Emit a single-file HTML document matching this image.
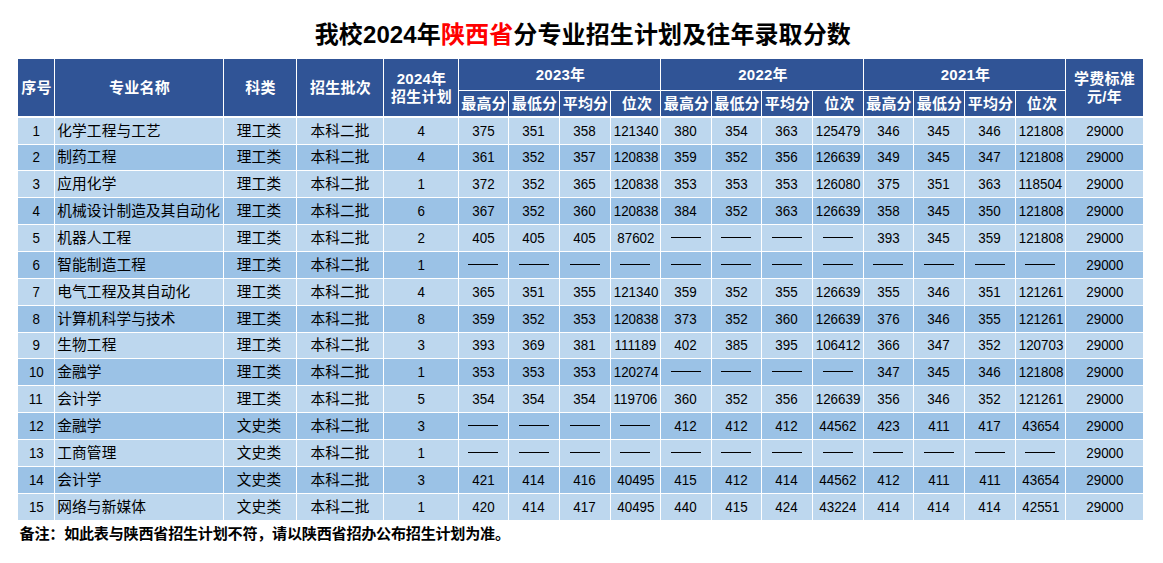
<!DOCTYPE html>
<html lang="zh-CN"><head><meta charset="utf-8"><title>我校2024年陕西省分专业招生计划及往年录取分数</title>
<style>
html,body{margin:0;padding:0;background:#fff}
body{width:1163px;height:563px;position:relative;overflow:hidden;font-family:"Liberation Sans","Noto Sans CJK SC",sans-serif;color:#000}
.hb{display:block;height:15px;line-height:15px;font-size:15px;font-weight:bold;letter-spacing:.2px;color:#fff;white-space:nowrap}
.c{display:block;height:14.67px;line-height:14.67px;font-size:14.67px;letter-spacing:.13px;color:#000;white-space:nowrap}
h1{position:absolute;left:314.7px;top:23.3px;margin:0;height:24px;line-height:24px;font-size:24px;font-weight:bold;white-space:nowrap;letter-spacing:.12px}
h1 .r{color:#f00}
table{position:absolute;left:18px;top:59px;width:1125px;border-collapse:separate;border-spacing:0;table-layout:fixed}
th,td{box-sizing:border-box;padding:0;margin:0;border-right:1px solid #fff;border-bottom:1px solid #fff;text-align:center;vertical-align:middle;white-space:nowrap;overflow:hidden;line-height:1;font-weight:normal}
th{background:#305496;color:#fff;padding-left:1px}
th.y{padding-left:2px}
th.w{padding-left:3px}
th.last,td.last{border-right:0}
th.last{padding-left:0}
tr.h2 th{border-bottom:2px solid #fff}
th[rowspan="2"]{border-bottom:2px solid #fff}
.l2{height:18px;padding-top:1.5px;box-sizing:border-box;position:relative;top:0px}
tr.a td{background:#bdd7ee}
tr.b td{background:#9bc2e6}
tbody tr:last-child td{border-bottom:0}
td.m{text-align:left;padding-left:2.3px}
td.k{padding-right:2px}
td.i{font-size:14.5px}
td.n{font-size:15px}
td.n span{display:inline-block;transform:scaleX(.893);position:relative;top:-0.85px}
td.d{font-size:0;line-height:0}
td.d span{display:block;width:30px;height:1px;margin:0 auto;background:#000;color:transparent;overflow:hidden;position:relative;top:-0.5px;left:-0.5px}
p.note{position:absolute;left:19.6px;top:525.8px;margin:0;height:15px;line-height:15px;white-space:nowrap;font-weight:bold;font-size:15.1px;letter-spacing:-.24px}
</style></head>
<body>
<h1>我校2024年<span class="r">陕西省</span>分专业招生计划及往年录取分数</h1>
<table><colgroup><col style="width:37px"><col style="width:169px"><col style="width:73px"><col style="width:87px"><col style="width:75px"><col style="width:50px"><col style="width:51px"><col style="width:51px"><col style="width:50px"><col style="width:51px"><col style="width:50px"><col style="width:51px"><col style="width:51px"><col style="width:50px"><col style="width:51px"><col style="width:51px"><col style="width:50px"><col style="width:77px"></colgroup>
<thead><tr style="height:32px"><th rowspan="2"><span class="hb">序号</span></th><th rowspan="2"><span class="hb">专业名称</span></th><th rowspan="2"><span class="hb">科类</span></th><th rowspan="2"><span class="hb">招生批次</span></th><th rowspan="2"><div class="l2"><span class="hb">2024年</span></div><div class="l2"><span class="hb">招生计划</span></div></th><th colspan="4" class="y"><span class="hb">2023年</span></th><th colspan="4" class="y"><span class="hb">2022年</span></th><th colspan="4" class="y"><span class="hb">2021年</span></th><th rowspan="2" class="last"><div class="l2"><span class="hb">学费标准</span></div><div class="l2"><span class="hb">元/年</span></div></th></tr>
<tr style="height:27px" class="h2"><th><span class="hb">最高分</span></th><th><span class="hb">最低分</span></th><th><span class="hb">平均分</span></th><th class="w"><span class="hb">位次</span></th><th><span class="hb">最高分</span></th><th><span class="hb">最低分</span></th><th><span class="hb">平均分</span></th><th class="w"><span class="hb">位次</span></th><th><span class="hb">最高分</span></th><th><span class="hb">最低分</span></th><th><span class="hb">平均分</span></th><th class="w"><span class="hb">位次</span></th></tr></thead>
<tbody>
<tr class="a" style="height:27px"><td class="n"><span>1</span></td><td class="m"><span class="c">化学工程与工艺</span></td><td class="k"><span class="c">理工类</span></td><td><span class="c">本科二批</span></td><td class="n"><span>4</span></td><td class="n"><span>375</span></td><td class="n"><span>351</span></td><td class="n"><span>358</span></td><td class="n"><span>121340</span></td><td class="n"><span>380</span></td><td class="n"><span>354</span></td><td class="n"><span>363</span></td><td class="n"><span>125479</span></td><td class="n"><span>346</span></td><td class="n"><span>345</span></td><td class="n"><span>346</span></td><td class="n"><span>121808</span></td><td class="n last"><span>29000</span></td></tr>
<tr class="b" style="height:26px"><td class="n"><span>2</span></td><td class="m"><span class="c">制药工程</span></td><td class="k"><span class="c">理工类</span></td><td><span class="c">本科二批</span></td><td class="n"><span>4</span></td><td class="n"><span>361</span></td><td class="n"><span>352</span></td><td class="n"><span>357</span></td><td class="n"><span>120838</span></td><td class="n"><span>359</span></td><td class="n"><span>352</span></td><td class="n"><span>356</span></td><td class="n"><span>126639</span></td><td class="n"><span>349</span></td><td class="n"><span>345</span></td><td class="n"><span>347</span></td><td class="n"><span>121808</span></td><td class="n last"><span>29000</span></td></tr>
<tr class="a" style="height:27px"><td class="n"><span>3</span></td><td class="m"><span class="c">应用化学</span></td><td class="k"><span class="c">理工类</span></td><td><span class="c">本科二批</span></td><td class="n"><span>1</span></td><td class="n"><span>372</span></td><td class="n"><span>352</span></td><td class="n"><span>365</span></td><td class="n"><span>120838</span></td><td class="n"><span>353</span></td><td class="n"><span>353</span></td><td class="n"><span>353</span></td><td class="n"><span>126080</span></td><td class="n"><span>375</span></td><td class="n"><span>351</span></td><td class="n"><span>363</span></td><td class="n"><span>118504</span></td><td class="n last"><span>29000</span></td></tr>
<tr class="b" style="height:27px"><td class="n"><span>4</span></td><td class="m"><span class="c">机械设计制造及其自动化</span></td><td class="k"><span class="c">理工类</span></td><td><span class="c">本科二批</span></td><td class="n"><span>6</span></td><td class="n"><span>367</span></td><td class="n"><span>352</span></td><td class="n"><span>360</span></td><td class="n"><span>120838</span></td><td class="n"><span>384</span></td><td class="n"><span>352</span></td><td class="n"><span>363</span></td><td class="n"><span>126639</span></td><td class="n"><span>358</span></td><td class="n"><span>345</span></td><td class="n"><span>350</span></td><td class="n"><span>121808</span></td><td class="n last"><span>29000</span></td></tr>
<tr class="a" style="height:27px"><td class="n"><span>5</span></td><td class="m"><span class="c">机器人工程</span></td><td class="k"><span class="c">理工类</span></td><td><span class="c">本科二批</span></td><td class="n"><span>2</span></td><td class="n"><span>405</span></td><td class="n"><span>405</span></td><td class="n"><span>405</span></td><td class="n"><span>87602</span></td><td class="d"><span>——</span></td><td class="d"><span>——</span></td><td class="d"><span>——</span></td><td class="d"><span>——</span></td><td class="n"><span>393</span></td><td class="n"><span>345</span></td><td class="n"><span>359</span></td><td class="n"><span>121808</span></td><td class="n last"><span>29000</span></td></tr>
<tr class="b" style="height:27px"><td class="n"><span>6</span></td><td class="m"><span class="c">智能制造工程</span></td><td class="k"><span class="c">理工类</span></td><td><span class="c">本科二批</span></td><td class="n"><span>1</span></td><td class="d"><span>——</span></td><td class="d"><span>——</span></td><td class="d"><span>——</span></td><td class="d"><span>——</span></td><td class="d"><span>——</span></td><td class="d"><span>——</span></td><td class="d"><span>——</span></td><td class="d"><span>——</span></td><td class="d"><span>——</span></td><td class="d"><span>——</span></td><td class="d"><span>——</span></td><td class="d"><span>——</span></td><td class="n last"><span>29000</span></td></tr>
<tr class="a" style="height:27px"><td class="n"><span>7</span></td><td class="m"><span class="c">电气工程及其自动化</span></td><td class="k"><span class="c">理工类</span></td><td><span class="c">本科二批</span></td><td class="n"><span>4</span></td><td class="n"><span>365</span></td><td class="n"><span>351</span></td><td class="n"><span>355</span></td><td class="n"><span>121340</span></td><td class="n"><span>359</span></td><td class="n"><span>352</span></td><td class="n"><span>355</span></td><td class="n"><span>126639</span></td><td class="n"><span>355</span></td><td class="n"><span>346</span></td><td class="n"><span>351</span></td><td class="n"><span>121261</span></td><td class="n last"><span>29000</span></td></tr>
<tr class="b" style="height:27px"><td class="n"><span>8</span></td><td class="m"><span class="c">计算机科学与技术</span></td><td class="k"><span class="c">理工类</span></td><td><span class="c">本科二批</span></td><td class="n"><span>8</span></td><td class="n"><span>359</span></td><td class="n"><span>352</span></td><td class="n"><span>353</span></td><td class="n"><span>120838</span></td><td class="n"><span>373</span></td><td class="n"><span>352</span></td><td class="n"><span>360</span></td><td class="n"><span>126639</span></td><td class="n"><span>376</span></td><td class="n"><span>346</span></td><td class="n"><span>355</span></td><td class="n"><span>121261</span></td><td class="n last"><span>29000</span></td></tr>
<tr class="a" style="height:26px"><td class="n"><span>9</span></td><td class="m"><span class="c">生物工程</span></td><td class="k"><span class="c">理工类</span></td><td><span class="c">本科二批</span></td><td class="n"><span>3</span></td><td class="n"><span>393</span></td><td class="n"><span>369</span></td><td class="n"><span>381</span></td><td class="n"><span>111189</span></td><td class="n"><span>402</span></td><td class="n"><span>385</span></td><td class="n"><span>395</span></td><td class="n"><span>106412</span></td><td class="n"><span>366</span></td><td class="n"><span>347</span></td><td class="n"><span>352</span></td><td class="n"><span>120703</span></td><td class="n last"><span>29000</span></td></tr>
<tr class="b" style="height:27px"><td class="n"><span>10</span></td><td class="m"><span class="c">金融学</span></td><td class="k"><span class="c">理工类</span></td><td><span class="c">本科二批</span></td><td class="n"><span>1</span></td><td class="n"><span>353</span></td><td class="n"><span>353</span></td><td class="n"><span>353</span></td><td class="n"><span>120274</span></td><td class="d"><span>——</span></td><td class="d"><span>——</span></td><td class="d"><span>——</span></td><td class="d"><span>——</span></td><td class="n"><span>347</span></td><td class="n"><span>345</span></td><td class="n"><span>346</span></td><td class="n"><span>121808</span></td><td class="n last"><span>29000</span></td></tr>
<tr class="a" style="height:27px"><td class="n"><span>11</span></td><td class="m"><span class="c">会计学</span></td><td class="k"><span class="c">理工类</span></td><td><span class="c">本科二批</span></td><td class="n"><span>5</span></td><td class="n"><span>354</span></td><td class="n"><span>354</span></td><td class="n"><span>354</span></td><td class="n"><span>119706</span></td><td class="n"><span>360</span></td><td class="n"><span>352</span></td><td class="n"><span>356</span></td><td class="n"><span>126639</span></td><td class="n"><span>356</span></td><td class="n"><span>346</span></td><td class="n"><span>352</span></td><td class="n"><span>121261</span></td><td class="n last"><span>29000</span></td></tr>
<tr class="b" style="height:27px"><td class="n"><span>12</span></td><td class="m"><span class="c">金融学</span></td><td class="k"><span class="c">文史类</span></td><td><span class="c">本科二批</span></td><td class="n"><span>3</span></td><td class="d"><span>——</span></td><td class="d"><span>——</span></td><td class="d"><span>——</span></td><td class="d"><span>——</span></td><td class="n"><span>412</span></td><td class="n"><span>412</span></td><td class="n"><span>412</span></td><td class="n"><span>44562</span></td><td class="n"><span>423</span></td><td class="n"><span>411</span></td><td class="n"><span>417</span></td><td class="n"><span>43654</span></td><td class="n last"><span>29000</span></td></tr>
<tr class="a" style="height:27px"><td class="n"><span>13</span></td><td class="m"><span class="c">工商管理</span></td><td class="k"><span class="c">文史类</span></td><td><span class="c">本科二批</span></td><td class="n"><span>1</span></td><td class="d"><span>——</span></td><td class="d"><span>——</span></td><td class="d"><span>——</span></td><td class="d"><span>——</span></td><td class="d"><span>——</span></td><td class="d"><span>——</span></td><td class="d"><span>——</span></td><td class="d"><span>——</span></td><td class="d"><span>——</span></td><td class="d"><span>——</span></td><td class="d"><span>——</span></td><td class="d"><span>——</span></td><td class="n last"><span>29000</span></td></tr>
<tr class="b" style="height:27px"><td class="n"><span>14</span></td><td class="m"><span class="c">会计学</span></td><td class="k"><span class="c">文史类</span></td><td><span class="c">本科二批</span></td><td class="n"><span>3</span></td><td class="n"><span>421</span></td><td class="n"><span>414</span></td><td class="n"><span>416</span></td><td class="n"><span>40495</span></td><td class="n"><span>415</span></td><td class="n"><span>412</span></td><td class="n"><span>414</span></td><td class="n"><span>44562</span></td><td class="n"><span>412</span></td><td class="n"><span>411</span></td><td class="n"><span>411</span></td><td class="n"><span>43654</span></td><td class="n last"><span>29000</span></td></tr>
<tr class="a" style="height:26px"><td class="n"><span>15</span></td><td class="m"><span class="c">网络与新媒体</span></td><td class="k"><span class="c">文史类</span></td><td><span class="c">本科二批</span></td><td class="n"><span>1</span></td><td class="n"><span>420</span></td><td class="n"><span>414</span></td><td class="n"><span>417</span></td><td class="n"><span>40495</span></td><td class="n"><span>440</span></td><td class="n"><span>415</span></td><td class="n"><span>424</span></td><td class="n"><span>43224</span></td><td class="n"><span>414</span></td><td class="n"><span>414</span></td><td class="n"><span>414</span></td><td class="n"><span>42551</span></td><td class="n last"><span>29000</span></td></tr>
</tbody></table>
<p class="note">备注：如此表与陕西省招生计划不符，请以陕西省招办公布招生计划为准。</p>
</body></html>
